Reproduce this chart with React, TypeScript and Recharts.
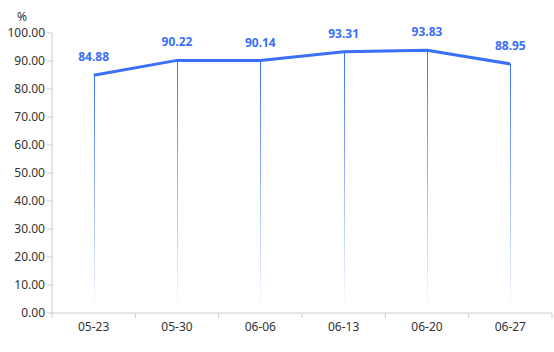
import React from "react";
import { ComposedChart, Bar, Line, XAxis, YAxis, LabelList } from "recharts";

const categories = ["05-23", "05-30", "06-06", "06-13", "06-20", "06-27"];
const rates = [84.88, 90.22, 90.14, 93.31, 93.83, 88.95];
const yTicks = [0, 10, 20, 30, 40, 50, 60, 70, 80, 90, 100];

const data = categories.map((c, i) => ({ name: c, value: rates[i] }));

const BLUE = "#3a6ff7";
const FONT = "'Microsoft YaHei', 'Noto Sans', sans-serif";
const LEFT = 52;
const RIGHT = 552;
const BW = (RIGHT - LEFT) / categories.length;

const XTick = (props: any) => {
  const { x, y, payload, index } = props;
  const last = index === categories.length - 1;
  return (
    <g>
      <line x1={x - BW / 2} x2={x - BW / 2} y1={y - 8} y2={y - 3} stroke="#ccc" />
      {last && <line x1={x + BW / 2} x2={x + BW / 2} y1={y - 8} y2={y - 3} stroke="#ccc" />}
      <text x={x} y={y + 10} textAnchor="middle" fill="#333" fontSize={12} fontFamily={FONT}>
        {payload.value}
      </text>
    </g>
  );
};

const ThinBar = (props: any) => {
  const { x, y, width, height } = props;
  const cx = Math.floor(x + width / 2);
  return <rect x={cx} y={y} width={1} height={height} fill="url(#barGrad)" />;
};

export default function App() {
  return (
    <div style={{ position: "absolute", left: 0, top: 0, width: 554, height: 352, background: "#fff" }}>
      <ComposedChart
        width={554}
        height={352}
        data={data}
        margin={{ top: 33, right: 2, bottom: 9, left: 0 }}
      >
        <defs>
          <linearGradient id="barGrad" x1="0" y1="0" x2="0" y2="1">
            <stop offset="0%" stopColor={BLUE} stopOpacity={1} />
            <stop offset="100%" stopColor={BLUE} stopOpacity={0} />
          </linearGradient>
        </defs>
        <XAxis
          dataKey="name"
          height={30}
          axisLine={{ stroke: "#ccc" }}
          tickLine={false}
          tick={<XTick />}
          interval={0}
        />
        <YAxis
          width={52}
          domain={[0, 100]}
          ticks={yTicks}
          interval={0}
          tickFormatter={(v: number) => v.toFixed(2)}
          axisLine={{ stroke: "#ccc" }}
          tickLine={{ stroke: "#ccc" }}
          tickSize={5}
          tick={{ fill: "#333", fontSize: 12, fontFamily: FONT }}
          label={{ value: "%", position: "top", offset: 12, dx: -4, fill: "#333", fontSize: 12, fontFamily: FONT }}
        />
        <Bar dataKey="value" barSize={2} shape={<ThinBar />} isAnimationActive={false} />
        <Line
          dataKey="value"
          stroke={BLUE}
          strokeWidth={3}
          dot={false}
          activeDot={false}
          isAnimationActive={false}
        >
          <LabelList
            dataKey="value"
            position="top"
            offset={14}
            fill={BLUE}
            fontSize={12}
            fontWeight="bold"
            fontFamily={FONT}
            formatter={(v: number) => v.toFixed(2)}
          />
        </Line>
      </ComposedChart>
    </div>
  );
}
